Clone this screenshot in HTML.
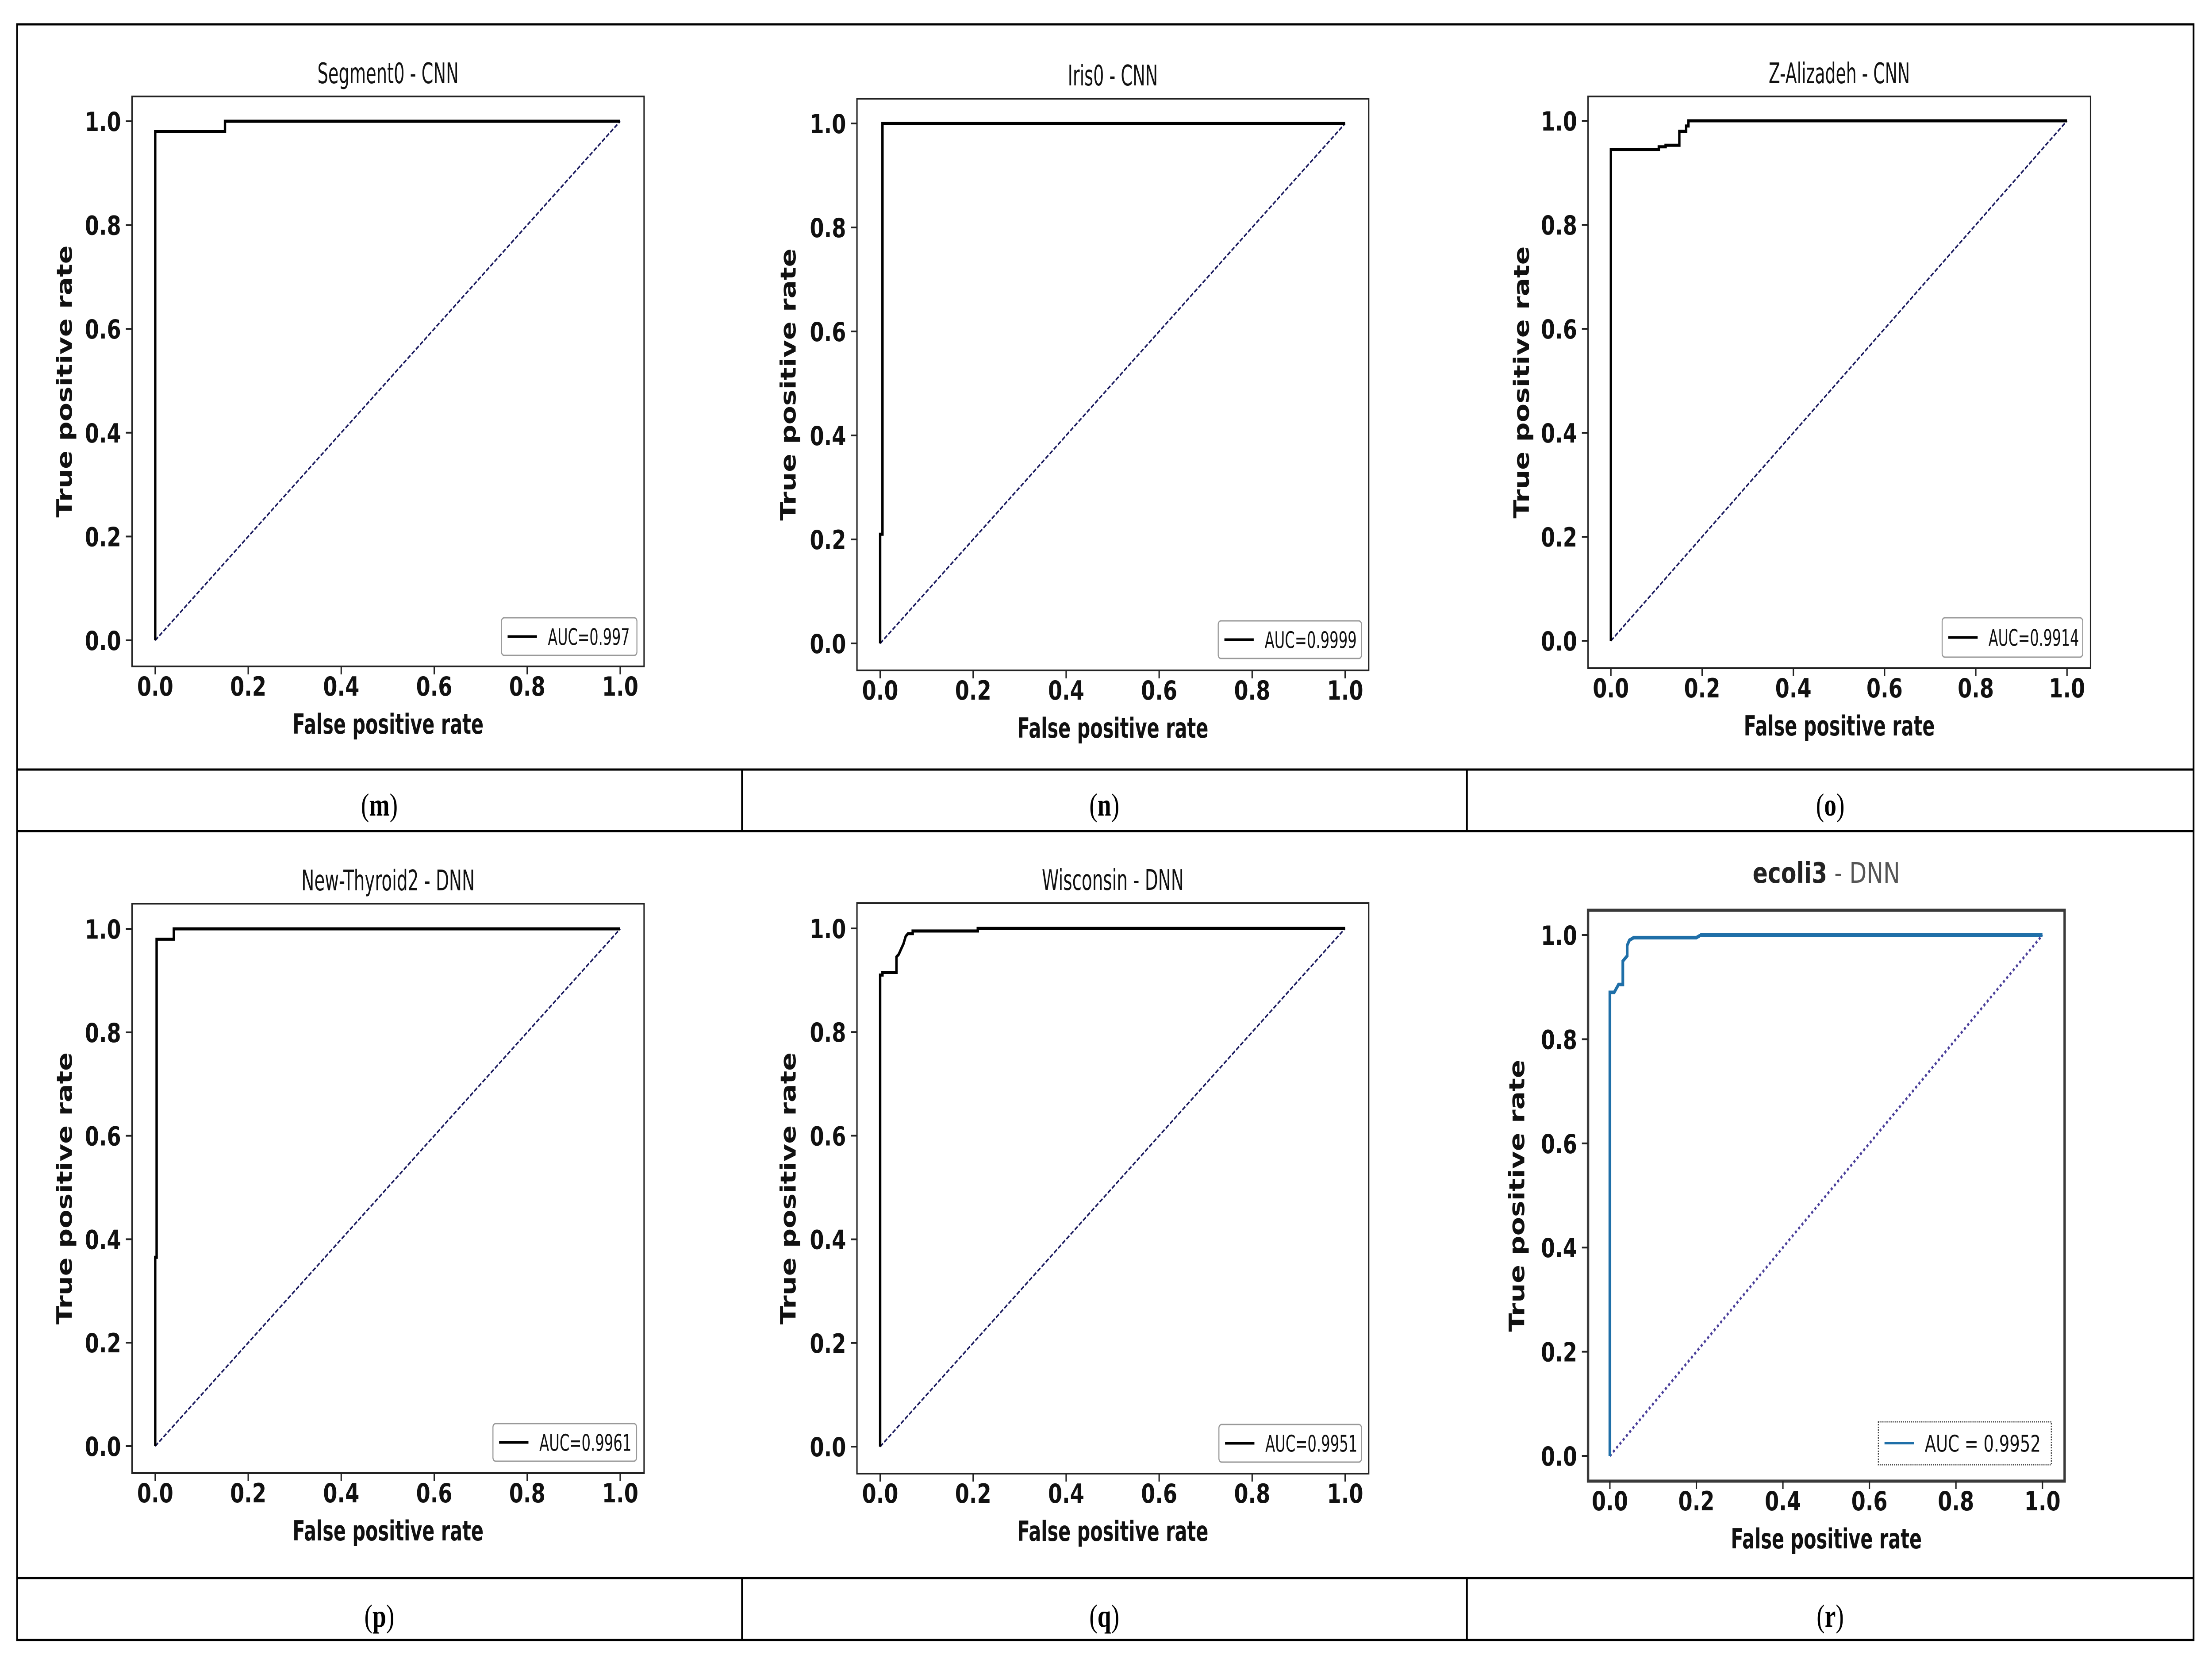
<!DOCTYPE html>
<html><head><meta charset="utf-8">
<style>
html,body{margin:0;padding:0;background:#fff;width:100%;height:100%;overflow:hidden;}
svg{display:block;width:100vw;height:100vh;}
.tick{font-family:"DejaVu Sans","Liberation Sans",sans-serif;font-weight:bold;font-size:60px;fill:#111;}
.axl{font-family:"DejaVu Sans","Liberation Sans",sans-serif;font-weight:bold;font-size:62px;fill:#111;}
.ttl{font-family:"DejaVu Sans Condensed","DejaVu Sans","Liberation Sans",sans-serif;font-stretch:condensed;font-size:64px;fill:#111;}
.leg{font-family:"DejaVu Sans Condensed","DejaVu Sans","Liberation Sans",sans-serif;font-stretch:condensed;font-size:52px;fill:#111;}
.cap{font-family:"Liberation Serif",serif;font-size:72px;fill:#000;}
</style></head>
<body>
<svg id="fig" viewBox="0 0 6484 3758" preserveAspectRatio="none" xmlns="http://www.w3.org/2000/svg">
<g stroke="#000" stroke-width="5" fill="none">
<rect x="50" y="55" width="6380" height="3651"/>
<line x1="50" y1="1739" x2="6430" y2="1739"/>
<line x1="50" y1="1878" x2="6430" y2="1878"/>
<line x1="50" y1="3566" x2="6430" y2="3566"/>
<line x1="2175" y1="1739" x2="2175" y2="1878"/>
<line x1="4300" y1="1739" x2="4300" y2="1878"/>
<line x1="2175" y1="3566" x2="2175" y2="3706"/>
<line x1="4300" y1="3566" x2="4300" y2="3706"/>
</g>
<g>
<text class="cap" x="1112" y="1843" text-anchor="middle">(<tspan font-weight="bold">m</tspan>)</text>
<text class="cap" x="3237" y="1843" text-anchor="middle">(<tspan font-weight="bold">n</tspan>)</text>
<text class="cap" x="5365" y="1843" text-anchor="middle">(<tspan font-weight="bold">o</tspan>)</text>
<text class="cap" x="1112" y="3676" text-anchor="middle">(<tspan font-weight="bold">p</tspan>)</text>
<text class="cap" x="3237" y="3676" text-anchor="middle">(<tspan font-weight="bold">q</tspan>)</text>
<text class="cap" x="5365" y="3676" text-anchor="middle">(<tspan font-weight="bold">r</tspan>)</text>
</g>
</svg>
<script>
const tickValues = [0, 0.2, 0.4, 0.6, 0.8, 1.0];
const tickLabels = ["0.0", "0.2", "0.4", "0.6", "0.8", "1.0"];
const mFpr = [0, 0, 0.15, 0.15, 1];
const mTpr = [0, 0.98, 0.98, 1, 1];
const nFpr = [0, 0, 0.005, 0.005, 1];
const nTpr = [0, 0.21, 0.21, 1, 1];
const oFpr = [0, 0, 0.105, 0.105, 0.12, 0.12, 0.15, 0.15, 0.165, 0.165, 0.17, 0.17, 1];
const oTpr = [0, 0.945, 0.945, 0.95, 0.95, 0.953, 0.953, 0.98, 0.98, 0.99, 0.99, 1, 1];
const pFpr = [0, 0, 0.003, 0.003, 0.04, 0.04, 1];
const pTpr = [0, 0.365, 0.365, 0.98, 0.98, 1, 1];
const qFpr = [0, 0, 0.005, 0.005, 0.035, 0.035, 0.04, 0.045, 0.05, 0.055, 0.06, 0.07, 0.07, 0.21, 0.21, 1];
const qTpr = [0, 0.91, 0.91, 0.915, 0.915, 0.945, 0.95, 0.96, 0.97, 0.985, 0.99, 0.99, 0.995, 0.995, 1, 1];
const rFpr = [0, 0, 0.01, 0.02, 0.03, 0.03, 0.035, 0.04, 0.04, 0.045, 0.055, 0.065, 0.2, 0.21, 1];
const rTpr = [0, 0.89, 0.89, 0.905, 0.905, 0.95, 0.955, 0.96, 0.98, 0.99, 0.995, 0.995, 0.995, 1, 1];
const titles = ["Segment0 - CNN", "Iris0 - CNN", "Z-Alizadeh - CNN", "New-Thyroid2 - DNN", "Wisconsin - DNN", "ecoli3"];
const aucLabels = ["AUC=0.997", "AUC=0.9999", "AUC=0.9914", "AUC=0.9961", "AUC=0.9951", "AUC = 0.9952"];

const NS = "http://www.w3.org/2000/svg";
const svg = document.getElementById("fig");
function mk(tag, attrs, parent) {
  const e = document.createElementNS(NS, tag);
  for (const k in attrs) e.setAttribute(k, attrs[k]);
  parent.appendChild(e);
  return e;
}
const layout = [
  {id:"m", fpr:mFpr, tpr:mTpr, box:[387,218,1888,1506], px:[455,1818], py:[1447,274], ylx:189, tw:414, leg:[1470,1396,1867,1481], lw:240, blue:false},
  {id:"n", fpr:nFpr, tpr:nTpr, box:[2512,223,4012,1515], px:[2580,3943], py:[1454,279], ylx:2310, tw:264, leg:[3571,1403,3991,1488], lw:270, blue:false},
  {id:"o", fpr:oFpr, tpr:oTpr, box:[4655,218,6128,1510], px:[4722,6059], py:[1448,273], ylx:4460, tw:414, leg:[5693,1396,6105,1485], lw:265, blue:false},
  {id:"p", fpr:pFpr, tpr:pTpr, box:[387,2042,1888,3329], px:[455,1818], py:[3268,2099], ylx:189, tw:508, leg:[1445,3217,1866,3302], lw:270, blue:false},
  {id:"q", fpr:qFpr, tpr:qTpr, box:[2512,2041,4012,3330], px:[2580,3943], py:[3269,2098], ylx:2310, tw:416, leg:[3573,3219,3991,3304], lw:270, blue:false},
  {id:"r", fpr:rFpr, tpr:rTpr, box:[4655,2057,6052,3347], px:[4719,5987], py:[3290,2113], ylx:4446, tw:260, leg:[5506,3213,6013,3310], lw:340, blue:true}
];
layout.forEach((L, i) => {
  const g = mk("g", {}, svg);
  
  
  const sx = v => L.px[0] + v * (L.px[1] - L.px[0]);
  const sy = v => L.py[0] + v * (L.py[1] - L.py[0]);
  const [bl, bt, br, bb] = L.box;
  const frame = mk("rect", {x:bl, y:bt, width:br-bl, height:bb-bt, fill:"none", stroke: L.blue ? "#3a3a3a" : "#222", "stroke-width": L.blue ? 7 : 4}, g);
  
  
  const t = mk("text", {x:(bl+br)/2, y: L.blue ? bt-62 : bt-30, "text-anchor":"middle", class:"ttl", textLength:L.tw, lengthAdjust:"spacingAndGlyphs"}, g);
  if (L.blue) {
    t.setAttribute("font-size", "78");
    t.setAttribute("textLength", "432");
    const a = mk("tspan", {"font-weight":"bold", fill:"#222"}, t); a.textContent = titles[i];
    const b = mk("tspan", {fill:"#555"}, t); b.textContent = " - DNN";
  } else t.textContent = titles[i];
  
  
  tickValues.forEach((v, k) => {
    const X = sx(v), Y = sy(v);
    const tx = mk("line", {x1:X, y1:bb, x2:X, y2:bb+18, stroke:"#222", "stroke-width":4}, g);
    
    
    const lx = mk("text", {x:X, y:bb+66, "text-anchor":"middle", class:"tick"}, g);
    lx.textContent = tickLabels[k];
    
    
    const ty = mk("line", {x1:bl, y1:Y, x2:bl-18, y2:Y, stroke:"#222", "stroke-width":4}, g);
    
    
    const ly = mk("text", {x:bl-32, y:Y+22, "text-anchor":"end", class:"tick"}, g);
    ly.textContent = tickLabels[k];
    
    
  });
  const xl = mk("text", {x:(bl+br)/2, y:bb+152, "text-anchor":"middle", class:"axl", textLength:560, lengthAdjust:"spacingAndGlyphs"}, g);
  xl.textContent = "False positive rate";
  
  
  const cy = (bt+bb)/2;
  const yl = mk("text", {x:L.ylx+22, y:cy, "text-anchor":"middle", class:"axl", textLength:615, lengthAdjust:"spacingAndGlyphs", transform:`rotate(-90 ${L.ylx+22} ${cy})`}, g);
  yl.textContent = "True positive rate";
  
  
  const dg = mk("line", {x1:sx(0), y1:sy(0), x2:sx(1), y2:sy(1), stroke: L.blue ? "#4a3f9a" : "#1a1a5e", "stroke-width": L.blue ? 6 : 4, "stroke-dasharray": L.blue ? "6 7" : "11 5"}, g);
  
  
  const pts = L.fpr.map((f, k) => sx(f).toFixed(1) + "," + sy(L.tpr[k]).toFixed(1)).join(" ");
  const col = L.blue ? "#1f6fa8" : "#000";
  const pl = mk("polyline", {points:pts, fill:"none", stroke:col, "stroke-width": L.blue ? 8 : 7, "stroke-linejoin":"miter"}, g);
  
  
  const [ll, lt, lr, lb] = L.leg;
  const lg = mk("g", {}, g);
  
  
  mk("rect", {x:ll, y:lt, width:lr-ll, height:lb-lt, rx: L.blue ? 0 : 8, fill:"#fff", stroke: L.blue ? "#444" : "#999", "stroke-width":3, "stroke-dasharray": L.blue ? "3 3" : "none"}, lg);
  const my = (lt+lb)/2;
  mk("line", {x1:ll+18, y1:my, x2:ll+104, y2:my, stroke:col, "stroke-width": L.blue ? 5 : 6}, lg);
  const lt2 = mk("text", {x:ll+136, y:my+19, class:"leg", textLength:L.lw, lengthAdjust:"spacingAndGlyphs"}, lg);
  if (L.blue) lt2.setAttribute("font-size", "62");
  lt2.textContent = aucLabels[i];
  
  
});
</script>
</body></html>
